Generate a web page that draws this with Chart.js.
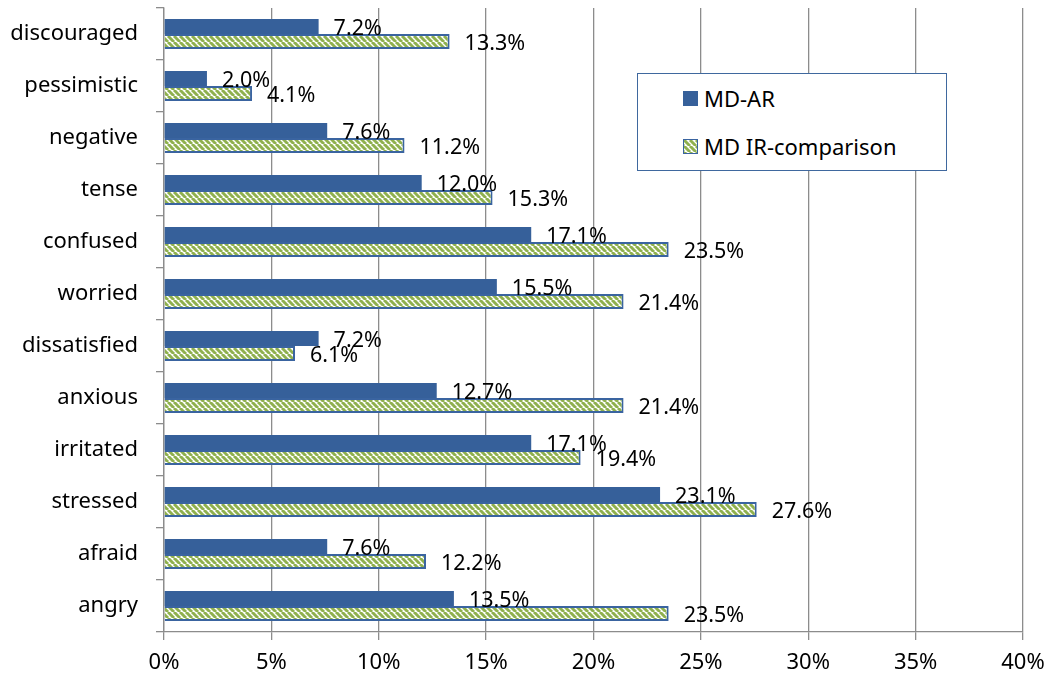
<!DOCTYPE html>
<html>
<head>
<meta charset="utf-8">
<script src="https://cdn.jsdelivr.net/npm/chart.js@4.4.0/dist/chart.umd.min.js"></script>
<style>
  html, body { margin: 0; padding: 0; background: #fff; }
  #wrap { position: relative; width: 1051px; height: 681px; }
  #legend {
    position: absolute; left: 637px; top: 73px; width: 308px; height: 96px;
    border: 1px solid #3F689E; background: #fff;
    font-family: "Noto Sans", sans-serif; font-size: 22px; color: #000;
  }
  .leg-item { position: absolute; left: 45px; display: flex; align-items: center; }
  .leg-sw { width: 15px; height: 15px; margin-right: 6px; box-sizing: border-box; }
</style>
</head>
<body>
<div id="wrap">
  <canvas id="chart" width="1051" height="681"></canvas>
  <div id="legend">
    <div class="leg-item" style="top:9px"><span class="leg-sw" id="sw1"></span>MD-AR</div>
    <div class="leg-item" style="top:57px"><span class="leg-sw" id="sw2"></span>MD IR-comparison</div>
  </div>
</div>
<script>
/* ---------- data ---------- */
const categories = ['discouraged', 'pessimistic', 'negative', 'tense', 'confused', 'worried',
  'dissatisfied', 'anxious', 'irritated', 'stressed', 'afraid', 'angry'];
const mdAR = [7.2, 2.0, 7.6, 12.0, 17.1, 15.5, 7.2, 12.7, 17.1, 23.1, 7.6, 13.5];
const mdIR = [13.3, 4.1, 11.2, 15.3, 23.5, 21.4, 6.1, 21.4, 19.4, 27.6, 12.2, 23.5];
const seriesNames = ['MD-AR', 'MD IR-comparison'];
const xTicks = [0, 5, 10, 15, 20, 25, 30, 35, 40];

const BLUE = '#36609A';
const GREEN = '#8FB04E';
const EDGE = '#3A64A0';
const GRID = '#8C8C8C';
const FONT = '"Noto Sans", sans-serif';

// diagonal hatch (top-left -> bottom-right)
function makeHatch() {
  const s = 6;
  const c = document.createElement('canvas');
  c.width = s; c.height = s;
  const g = c.getContext('2d');
  g.fillStyle = '#fff';
  g.fillRect(0, 0, s, s);
  g.strokeStyle = GREEN;
  g.lineWidth = 3;
  for (let k = -1; k <= 1; k++) {
    g.beginPath();
    g.moveTo(k * s, 0);
    g.lineTo(k * s + s, s);
    g.stroke();
  }
  return c;
}
const hatchCanvas = makeHatch();
const ctx = document.getElementById('chart').getContext('2d');
const hatch = ctx.createPattern(hatchCanvas, 'repeat');

// legend swatches
document.getElementById('sw1').style.background = BLUE;
const sw2 = document.getElementById('sw2');
sw2.style.backgroundImage = 'url(' + hatchCanvas.toDataURL() + ')';
sw2.style.border = '1px solid ' + EDGE;

// value labels next to each bar
const valueLabels = {
  id: 'valueLabels',
  afterDatasetsDraw(chart) {
    const c = chart.ctx;
    c.save();
    c.font = '21.5px ' + FONT;
    c.fillStyle = '#000';
    c.textAlign = 'left';
    c.textBaseline = 'middle';
    chart.data.datasets.forEach((ds, di) => {
      chart.getDatasetMeta(di).data.forEach((el, i) => {
        c.fillText(ds.data[i].toFixed(1) + '%', el.x + 15, el.y + 2);
      });
    });
    c.restore();
  }
};

new Chart(ctx, {
  type: 'bar',
  data: {
    labels: categories,
    datasets: [
      { label: seriesNames[0], data: mdAR, backgroundColor: BLUE, borderWidth: 0 },
      { label: seriesNames[1], data: mdIR, backgroundColor: hatch, borderColor: EDGE, borderWidth: 2 }
    ]
  },
  options: {
    indexAxis: 'y',
    responsive: false,
    animation: false,
    layout: { padding: { top: 8, right: 28, left: 0, bottom: 0 } },
    datasets: { bar: { categoryPercentage: 0.577, barPercentage: 1.0 } },
    plugins: { legend: { display: false }, tooltip: { enabled: false } },
    scales: {
      x: {
        min: 0, max: 40,
        afterBuildTicks: axis => { axis.ticks = xTicks.map(v => ({ value: v })); },
        afterFit: axis => { axis.height = 49; axis.paddingLeft = 0; axis.paddingRight = 0; },
        ticks: { font: { family: FONT, size: 22 }, color: '#000', padding: 10, maxRotation: 0,
                 callback: v => v + '%' },
        grid: { color: GRID, lineWidth: 1.3, tickLength: 8 },
        border: { color: GRID, width: 1.3 }
      },
      y: {
        afterFit: axis => { axis.width = 164; axis.paddingTop = 0; axis.paddingBottom = 0; },
        ticks: { font: { family: FONT, size: 22 }, color: '#000', padding: 18 },
        grid: { drawOnChartArea: false, color: GRID, lineWidth: 1.3, tickLength: 8, offset: true },
        border: { color: GRID, width: 1.3 }
      }
    }
  },
  plugins: [valueLabels]
});
</script>
</body>
</html>
